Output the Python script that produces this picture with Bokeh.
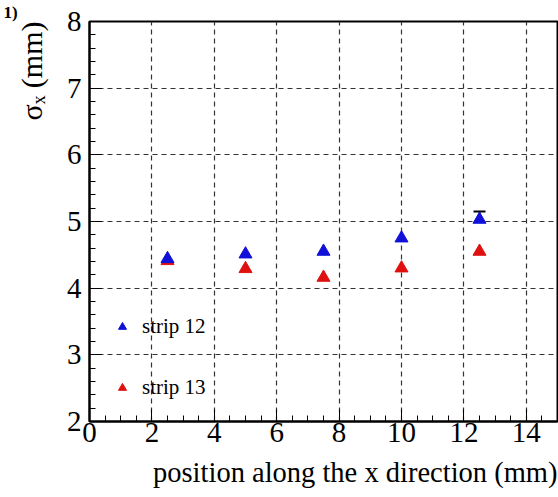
from bokeh.plotting import figure
from bokeh.models import (SingleIntervalTicker, ColumnDataSource, Whisker, TeeHead,
                          Legend, LegendItem, Range1d, Title)
from bokeh.embed import file_html
from bokeh.resources import INLINE

# data
positions = [2.5, 5.0, 7.5, 10.0, 12.5]
sigma_strip12 = [4.44, 4.51, 4.55, 4.75, 5.03]
err_strip12 = [0.02, 0.02, 0.02, 0.03, 0.12]
sigma_strip13 = [4.41, 4.29, 4.16, 4.30, 4.55]
err_strip13 = [0.02, 0.02, 0.02, 0.02, 0.03]
series_names = ["strip 12", "strip 13"]
x_label = "position along the x direction (mm)"
y_label = "σₓ (mm)"
panel_tag = "1)"

FONT = "Liberation Serif"

p = figure(width=558, height=497, output_backend="svg", toolbar_location=None,
           x_range=Range1d(0, 15), y_range=Range1d(2, 8),
           min_border_left=89, min_border_right=1, min_border_top=0, min_border_bottom=0)
p.background_fill_color = "white"
p.border_fill_color = "white"
p.outline_line_color = "black"
p.outline_line_width = 2

for ax in (p.xaxis, p.yaxis):
    ax.axis_line_width = 2
    ax.axis_line_color = "black"
    ax.major_tick_in = 12
    ax.major_tick_out = 0
    ax.minor_tick_in = 6
    ax.minor_tick_out = 0
    ax.major_tick_line_color = "black"
    ax.minor_tick_line_color = "black"
    ax.major_label_text_font = FONT
    ax.major_label_text_font_size = "29px"
    ax.major_label_text_color = "black"

p.xaxis.ticker = SingleIntervalTicker(interval=2, num_minor_ticks=4)
p.yaxis.ticker = SingleIntervalTicker(interval=1, num_minor_ticks=5)
p.xaxis.major_label_standoff = 1
p.yaxis.major_label_standoff = 8

for g in (p.xgrid, p.ygrid):
    g.grid_line_color = "#333333"
    g.grid_line_dash = "5 4"
    g.grid_line_width = 1.2

# axis titles as panel titles so they can be end-aligned
p.add_layout(Title(text=x_label, align="right", text_font=FONT, text_font_size="28.5px",
                   text_font_style="normal", text_color="black", standoff=20), "below")
p.add_layout(Title(text=y_label, align="right", vertical_align="top", text_font=FONT,
                   text_font_size="30px", text_font_style="normal", text_color="black",
                   standoff=27), "left")
p.add_layout(Title(text=panel_tag, align="left", offset=-86, text_font=FONT,
                   text_font_size="17px", text_font_style="bold", text_color="black",
                   standoff=0), "above")

src12 = ColumnDataSource(dict(x=positions, y=sigma_strip12,
                              hi=[a + b for a, b in zip(sigma_strip12, err_strip12)]))
src13 = ColumnDataSource(dict(x=positions, y=sigma_strip13,
                              hi=[a + b for a, b in zip(sigma_strip13, err_strip13)]))

# error bars only drawn where they stick out of the marker
vis_x = [x for x, e in zip(positions, err_strip12) if e > 0.08]
vis_y = [y for y, e in zip(sigma_strip12, err_strip12) if e > 0.08]
vis_hi = [y + e for y, e in zip(sigma_strip12, err_strip12) if e > 0.08]
err_src = ColumnDataSource(dict(x=vis_x, y=vis_y, hi=vis_hi))
w = Whisker(source=err_src, base="x", lower="y", upper="hi", line_color="black", line_width=1.5,
            upper_head=TeeHead(size=12, line_color="black", line_width=2),
            lower_head=None)
p.add_layout(w)

r13 = p.scatter("x", "y", source=src13, marker="triangle", size=13, color="#e01010")
r12 = p.scatter("x", "y", source=src12, marker="triangle", size=13, color="#1010d8")

legend = Legend(items=[LegendItem(label=series_names[0], renderers=[r12]),
                       LegendItem(label=series_names[1], renderers=[r13])],
                location=(23, 21), padding=0, margin=0, spacing=36,
                glyph_width=20, glyph_height=25, label_height=25, label_standoff=10,
                border_line_color=None, background_fill_alpha=0,
                label_text_font=FONT, label_text_font_size="21px",
                label_text_color="black")
p.add_layout(legend)

open("out.html", "w").write(file_html(p, INLINE))
